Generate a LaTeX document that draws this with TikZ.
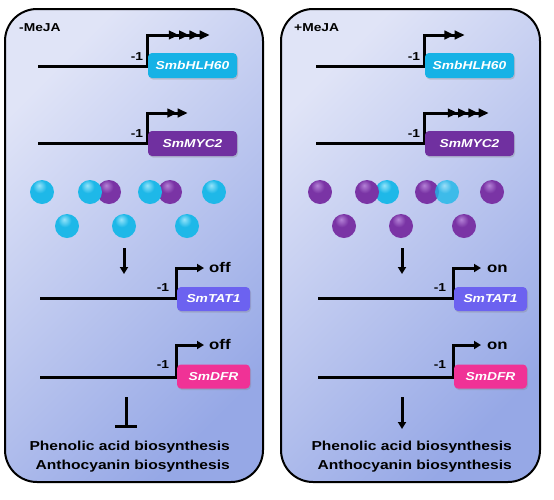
\documentclass[tikz,border=0pt]{standalone}
\usepackage{fontspec}
\setmainfont{Liberation Sans}
\newfontfamily\hf[FakeStretch=1.2]{Liberation Sans}
\usetikzlibrary{arrows.meta,shadows}
\pgfdeclarelayer{panel}
\pgfdeclarelayer{wire}
\pgfsetlayers{panel,wire,main}
\definecolor{panelA}{RGB}{224,228,247}
\definecolor{panelB}{RGB}{150,168,230}
\definecolor{cBHLH}{RGB}{22,178,230}
\definecolor{cMYC}{RGB}{112,48,160}
\definecolor{cTAT}{RGB}{108,98,240}
\definecolor{cDFR}{RGB}{240,50,150}
\definecolor{cyL}{RGB}{150,228,250}
\definecolor{cyM}{RGB}{30,184,232}
\definecolor{cyD}{RGB}{14,130,185}
\definecolor{puL}{RGB}{180,130,215}
\definecolor{puM}{RGB}{122,52,165}
\definecolor{puD}{RGB}{80,25,120}
\pgfdeclareradialshading{cyanball}{\pgfpoint{-6bp}{14bp}}{color(0bp)=(cyL); color(14bp)=(cyM); color(45bp)=(cyM); color(64bp)=(cyD); color(80bp)=(cyD)}
\pgfdeclareradialshading{purpball}{\pgfpoint{-6bp}{14bp}}{color(0bp)=(puL); color(14bp)=(puM); color(45bp)=(puM); color(64bp)=(puD); color(80bp)=(puD)}
\tikzset{
  panelbox/.style={draw=black, line width=2pt, rounded corners=32pt,
    top color=panelA, bottom color=panelB, shading angle=45},
  genebox/.style={rounded corners=4pt, minimum width=89pt, minimum height=25pt,
    inner sep=0pt, text=white, font=\hf\bfseries\itshape\fontsize{11.5}{13}\selectfont,
    drop shadow={shadow xshift=1pt, shadow yshift=-1.5pt, opacity=0.3}},
  smallbox/.style={genebox, minimum width=73pt, minimum height=24pt},
  wire/.style={line width=3pt, draw=black},
  one/.style={-{Triangle[length=7pt,width=8pt]}},
  two/.style={-{Triangle[length=10pt,width=8.5pt,sep=0.3pt]Triangle[length=10pt,width=8.5pt,sep=0.3pt]}},
  four/.style={-{Triangle[length=10pt,width=8.5pt,sep=0.3pt]Triangle[length=10pt,width=8.5pt,sep=0.3pt]Triangle[length=10pt,width=8.5pt,sep=0.3pt]Triangle[length=10pt,width=8.5pt,sep=0.3pt]}},
  minus/.style={font=\hf\bfseries\fontsize{11.5}{13}\selectfont, inner sep=0pt},
  state/.style={font=\hf\bfseries\fontsize{14}{16}\selectfont, inner sep=0pt, anchor=base west},
  cond/.style={font=\hf\bfseries\fontsize{11.5}{13}\selectfont, inner sep=0pt, anchor=west},
  outtext/.style={font=\hf\bfseries\fontsize{13}{19}\selectfont, align=right, inner sep=0pt, anchor=east},
  cball/.style={circle, minimum size=24pt, inner sep=0pt, shading=cyanball},
  pball/.style={circle, minimum size=24pt, inner sep=0pt, shading=purpball},
}
\begin{document}
\begin{tikzpicture}[x=1pt,y=-1pt]
\useasboundingbox (0,0) rectangle (554,499);
% panels
\begin{pgfonlayer}{panel}
\path[panelbox] (5,9) rectangle (263,482);
\path[panelbox] (281,9) rectangle (540,482);
\end{pgfonlayer}
\node[cond] (Lc) at (19,28) {-MeJA};
\node[cond] (Rc) at (294,28) {+MeJA};

% ---------- left panel ----------
\node[genebox, fill=cBHLH] (Lg1) at (192.5,65.5) {SmbHLH60};
\node[genebox, fill=cMYC] (Lg2) at (192.5,143.5) {SmMYC2};
\node[smallbox, fill=cTAT] (Lg3) at (213.5,299) {SmTAT1};
\node[smallbox, fill=cDFR] (Lg4) at (213.5,376.5) {SmDFR};
\coordinate (Ls1) at (38,66);  \coordinate (Lt1) at (210,35);
\coordinate (Ls2) at (38,143); \coordinate (Lt2) at (188,113);
\coordinate (Ls3) at (40,298); \coordinate (Lt3) at (204,268);
\coordinate (Ls4) at (40,377); \coordinate (Lt4) at (204,345);
\begin{pgfonlayer}{wire}
\draw[wire, four] (Ls1) -- (Ls1 -| Lg1.west) |- (Lt1);
\draw[wire, two] (Ls2) -- (Ls2 -| Lg2.west) |- (Lt2);
\draw[wire, one] (Ls3) -- (Ls3 -| Lg3.west) |- (Lt3);
\draw[wire, one] (Ls4) -- (Ls4 -| Lg4.west) |- (Lt4);
\end{pgfonlayer}
\node[minus] (Lm1) at (137,56.5) {-1};
\node[minus] (Lm2) at (137,133.5) {-1};
\node[minus] (Lm3) at (163,288) {-1};
\node[minus] (Lm4) at (163,365) {-1};
\node[state] (Lo3) at (209,272.5) {off};
\node[state] (Lo4) at (209,349.5) {off};
% balls
\node[cball] (Lb1) at (42,192) {};
\node[pball] (Lb2p) at (109,192) {};
\node[cball] (Lb2c) at (90,192) {};
\node[pball] (Lb3p) at (170,192) {};
\node[cball] (Lb3c) at (150,192) {};
\node[cball] (Lb4) at (214,192) {};
\node[cball] (Lb5) at (67,226) {};
\node[cball] (Lb6) at (124,226) {};
\node[cball] (Lb7) at (187,226) {};
\coordinate (La1) at (124,248); \coordinate (La2) at (124,274);
\draw[wire, one] (La1) -- (La2);
\coordinate (Li1) at (126,397); \coordinate (Li2) at (126,428);
\draw[wire, -{Bar[width=22pt,line width=3pt]}] (Li1) -- (Li2);
\node[outtext] (Lout) at (230,456.5) {Phenolic acid biosynthesis\\Anthocyanin biosynthesis};

% ---------- right panel ----------
\node[genebox, fill=cBHLH] (Rg1) at (469.5,65.5) {SmbHLH60};
\node[genebox, fill=cMYC] (Rg2) at (469.5,143.5) {SmMYC2};
\node[smallbox, fill=cTAT] (Rg3) at (490.5,299) {SmTAT1};
\node[smallbox, fill=cDFR] (Rg4) at (490.5,376.5) {SmDFR};
\coordinate (Rs1) at (316,66);  \coordinate (Rt1) at (465,35);
\coordinate (Rs2) at (316,143); \coordinate (Rt2) at (489,113);
\coordinate (Rs3) at (318,298); \coordinate (Rt3) at (481,268);
\coordinate (Rs4) at (318,377); \coordinate (Rt4) at (481,345);
\begin{pgfonlayer}{wire}
\draw[wire, two] (Rs1) -- (Rs1 -| Rg1.west) |- (Rt1);
\draw[wire, four] (Rs2) -- (Rs2 -| Rg2.west) |- (Rt2);
\draw[wire, one] (Rs3) -- (Rs3 -| Rg3.west) |- (Rt3);
\draw[wire, one] (Rs4) -- (Rs4 -| Rg4.west) |- (Rt4);
\end{pgfonlayer}
\node[minus] (Rm1) at (414,56.5) {-1};
\node[minus] (Rm2) at (414,133.5) {-1};
\node[minus] (Rm3) at (440,288) {-1};
\node[minus] (Rm4) at (440,365) {-1};
\node[state] (Ro3) at (487,272.5) {on};
\node[state] (Ro4) at (487,349.5) {on};
% balls
\node[pball] (Rb1) at (320,192) {};
\node[cball] (Rb2c) at (387,192) {};
\node[pball] (Rb2p) at (367,192) {};
\node[pball] (Rb3p) at (427,192) {};
\node[cball, opacity=0.8] (Rb3c) at (447,192) {};
\node[pball] (Rb4) at (492,192) {};
\node[pball] (Rb5) at (344,226) {};
\node[pball] (Rb6) at (401,226) {};
\node[pball] (Rb7) at (464,226) {};
\coordinate (Ra1) at (402,248); \coordinate (Ra2) at (402,274);
\draw[wire, one] (Ra1) -- (Ra2);
\coordinate (Rd1) at (402,397); \coordinate (Rd2) at (402,429);
\draw[wire, one] (Rd1) -- (Rd2);
\node[outtext] (Rout) at (512,456.5) {Phenolic acid biosynthesis\\Anthocyanin biosynthesis};
\end{tikzpicture}
\end{document}
